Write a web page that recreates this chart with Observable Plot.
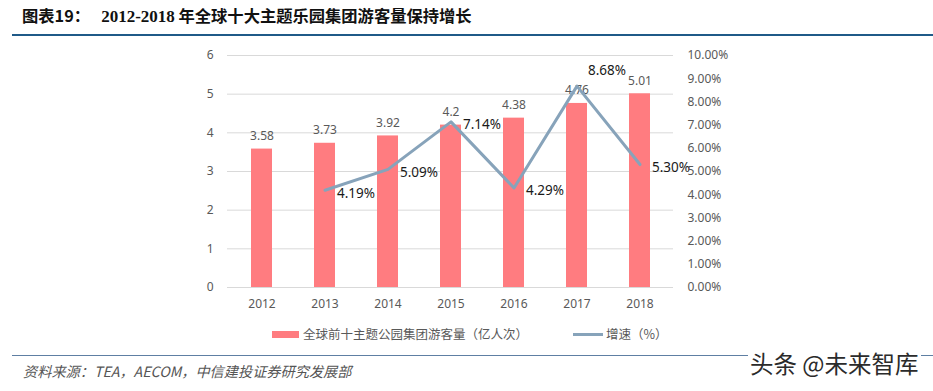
<!DOCTYPE html>
<html><head><meta charset="utf-8">
<script src="https://cdn.jsdelivr.net/npm/d3@7"></script>
<script src="https://cdn.jsdelivr.net/npm/@observablehq/plot@0.6"></script>
<style>
html,body{margin:0;padding:0;background:#fff;}
body{width:933px;height:391px;position:relative;overflow:hidden;font-family:"Noto Sans","Noto Sans CJK SC",sans-serif;}
.abs{position:absolute;white-space:nowrap;}
#title{left:22px;top:4px;font-size:16.3px;line-height:22px;font-weight:bold;color:#111;font-family:"Noto Sans CJK SC",sans-serif;}
#title .num{font-family:"Liberation Serif","Noto Sans CJK SC",serif;font-size:17px;}
#titleLine{left:12px;top:34px;width:921px;height:2px;background:#1f5a88;}
#chart{left:0;top:40px;}
#legend{left:0;top:324px;font-size:12.5px;line-height:20px;color:#595959;font-family:"Noto Sans CJK SC",sans-serif;}
.sw{position:absolute;}
#footLine{left:12px;top:355px;width:921px;height:1px;background:#5e7fa3;}
#foot{left:23px;top:362px;font-size:14.2px;line-height:18px;color:#555;font-style:italic;font-family:"Noto Sans CJK SC",sans-serif;}
#wm{left:748px;top:349px;font-size:23.5px;line-height:28px;color:#2b2b2b;background:#fff;padding:0 2px;font-family:"Noto Sans CJK SC",sans-serif;}
</style></head><body>
<div id="title" class="abs">图表19：&nbsp;&nbsp;&nbsp;<span class="num">2012-2018</span> 年全球十大主题乐园集团游客量保持增长</div>
<div id="titleLine" class="abs"></div>
<div id="chart" class="abs"></div>
<div id="legend" class="abs">
  <div class="sw" style="left:272px;top:7px;width:27px;height:7px;background:#ff7c80"></div>
  <div class="abs" style="left:303px;top:0">全球前十主题公园集团游客量（亿人次）</div>
  <div class="sw" style="left:573px;top:9px;width:30px;height:3px;background:#87a3ba"></div>
  <div class="abs" style="left:606px;top:0">增速（%）</div>
</div>
<div id="footLine" class="abs"></div>
<div id="foot" class="abs">资料来源：TEA，AECOM，中信建投证券研究发展部</div>
<div id="wm" class="abs">头条 @未来智库</div>
<script>
const years = ["2012","2013","2014","2015","2016","2017","2018"];
const visitors = [3.58, 3.73, 3.92, 4.2, 4.38, 4.76, 5.01];
const growthYears = ["2013","2014","2015","2016","2017","2018"];
const growth = [4.19, 5.09, 7.14, 4.29, 8.68, 5.30];
const leftTicks = [0, 1, 2, 3, 4, 5, 6];
const rightTicks = [0, 1, 2, 3, 4, 5, 6, 7, 8, 9, 10];
const leftMax = 6, rightMax = 10;
const k = leftMax / rightMax;

const bars = years.map((y, i) => ({year: y, v: visitors[i]}));
const line = growthYears.map((y, i) => ({year: y, g: growth[i]}));

const chart = Plot.plot({
  width: 933,
  height: 280,
  marginTop: 15,
  marginBottom: 33,
  marginLeft: 227,
  marginRight: 260,
  style: {fontFamily: '"Noto Sans","Noto Sans CJK SC",sans-serif', background: "transparent"},
  x: {domain: years, paddingInner: 0.67, paddingOuter: 0.335, label: null},
  y: {domain: [0, leftMax], label: null},
  marks: [
    Plot.gridY(leftTicks, {stroke: "#d9d9d9", strokeOpacity: 1}),
    Plot.barY(bars, {x: "year", y: "v", fill: "#ff7c80"}),
    Plot.text(bars, {x: "year", y: "v", text: d => String(d.v), dy: -13, fill: "#595959", fontSize: 12}),
    Plot.line(line, {x: "year", y: d => d.g * k, stroke: "#87a3ba", strokeWidth: 3}),
    Plot.text(line.filter(d => d.year !== "2017"), {x: "year", y: d => d.g * k, text: d => d.g.toFixed(2) + "%", textAnchor: "start", dx: 12, dy: 3, fill: "#1a1a1a", fontSize: 13.5}),
    Plot.text(line.filter(d => d.year === "2017"), {x: "year", y: d => d.g * k, text: d => d.g.toFixed(2) + "%", textAnchor: "start", dx: 11, dy: -15, fill: "#1a1a1a", fontSize: 13.5}),
    Plot.axisY(leftTicks, {anchor: "left", tickSize: 0, tickPadding: 14, fontSize: 12, color: "#595959", label: null}),
    Plot.axisY(rightTicks.map(t => t * k), {anchor: "right", tickSize: 0, tickPadding: 14, fontSize: 12, color: "#595959", label: null,
      tickFormat: d => (d / k).toFixed(2) + "%"}),
    Plot.axisX({tickSize: 0, tickPadding: 12, fontSize: 12, color: "#595959", label: null})
  ]
});
document.getElementById("chart").appendChild(chart);
</script>
</body></html>
